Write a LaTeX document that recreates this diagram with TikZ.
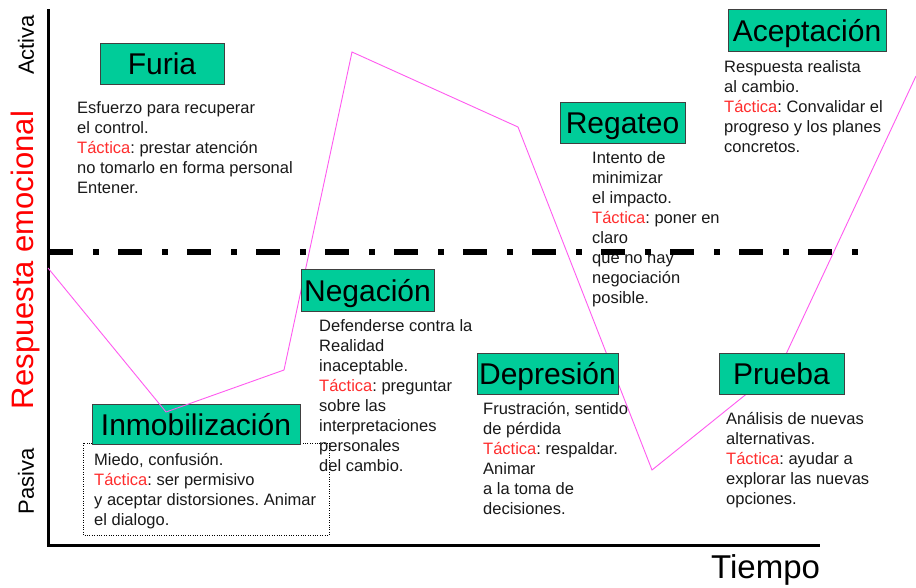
\documentclass[tikz,border=0pt]{standalone}
\usepackage{fontspec}
\setmainfont{Liberation Sans}
\frenchspacing
\definecolor{stagegreen}{RGB}{0,204,153}
\definecolor{tacred}{RGB}{255,45,45}
\definecolor{curvepink}{RGB}{255,90,240}
\newcommand{\tac}{\textcolor{tacred}{Táctica}}
\newcommand{\fl}{\rule{0pt}{16pt}}

\begin{document}
\begin{tikzpicture}[x=1pt, y=-1pt]

  % Define styles
  \tikzset{
    stage/.style={draw=black!75, fill=stagegreen, line width=0.8pt,
      inner sep=0pt, text height=22pt, text depth=0pt,
      font=\fontsize{30}{36}\selectfont},
    note/.style={anchor=north west, inner sep=0pt, align=left,
      text=black!90, font=\fontsize{16.5}{20}\selectfont},
    axis/.style={draw=black, line width=3pt},
    midline/.style={draw=black, line width=6pt,
      dash pattern=on 24pt off 20pt on 6pt off 19pt},
    curve/.style={draw=curvepink, line width=0.9pt},
    axis label/.style={rotate=90, anchor=base, inner sep=0pt}
  }

  \fill[white] (0,0) rectangle (916,587);
  \useasboundingbox (0,0) rectangle (916,587);

  %% Texts of each stage
  \node[note] (furia text) at (77,97)
    {\fl Esfuerzo para recuperar\\el control.\\\tac: prestar atención\\no tomarlo en forma personal\\Entener.};
  \node[note] (inmob text) at (94,449)
    {\fl Miedo, confusión.\\\tac: ser permisivo\\y aceptar distorsiones. Animar\\el dialogo.};
  \draw[dotted, thin] (83,443) rectangle (329,535);
  \node[note] (negacion text) at (319,315)
    {\fl Defenderse contra la\\Realidad\\inaceptable.\\\tac: preguntar\\sobre las\\interpretaciones\\personales\\del cambio.};
  \node[note] (regateo text) at (592,147)
    {\fl Intento de\\minimizar\\el impacto.\\\tac: poner en\\claro\\que no hay\\negociación\\posible.};
  \node[note] (aceptacion text) at (724,56)
    {\fl Respuesta realista\\al cambio.\\\tac: Convalidar el\\progreso y los planes\\concretos.};
  \node[note] (depresion text) at (483,398)
    {\fl Frustración, sentido\\de pérdida\\\tac: respaldar.\\Animar\\a la toma de\\decisiones.};
  \node[note] (prueba text) at (726,408)
    {\fl Análisis de nuevas\\alternativas.\\\tac: ayudar a\\explorar las nuevas\\opciones.};

  %% Axes and middle line
  \draw[midline] (49,252) -- (859,252);
  \draw[axis] (48,9) -- (48,545) -- (820,545);

  %% Stage boxes and curve
  \node[stage, minimum width=208pt, minimum height=40pt] (inmob) at (196,424) {Inmobilización};

  \draw[curve] (48,268) -- (166,412) -- (284,370) -- (352,52) -- (518,127)
    -- (652,470) -- (780,367) -- (916,76);

  \node[stage, minimum width=124pt, minimum height=41pt] (furia) at (162,63.5) {Furia};
  \node[stage, minimum width=133pt, minimum height=42pt] (negacion) at (367.5,290) {Negación};
  \node[stage, minimum width=125pt, minimum height=41pt] (regateo) at (622.5,122.5) {Regateo};
  \node[stage, minimum width=158pt, minimum height=42pt] (aceptacion) at (807,30) {Aceptación};
  \node[stage, minimum width=141pt, minimum height=41pt] (depresion) at (547.5,373.5) {Depresión};
  \node[stage, minimum width=125pt, minimum height=41pt] (prueba) at (781.5,373.5) {Prueba};

  %% Axis labels
  \node[axis label, font=\fontsize{22}{26}\selectfont] (activa) at (34,45) {Activa};
  \node[axis label, font=\fontsize{22}{26}\selectfont] (pasiva) at (34,481) {Pasiva};
  \node[axis label, text=red, font=\fontsize{31}{36}\selectfont] (respuesta) at (34,260) {Respuesta emocional};
  \node[anchor=base west, inner sep=0pt, font=\fontsize{33}{40}\selectfont] (tiempo) at (711,578) {Tiempo};

\end{tikzpicture}
\end{document}
